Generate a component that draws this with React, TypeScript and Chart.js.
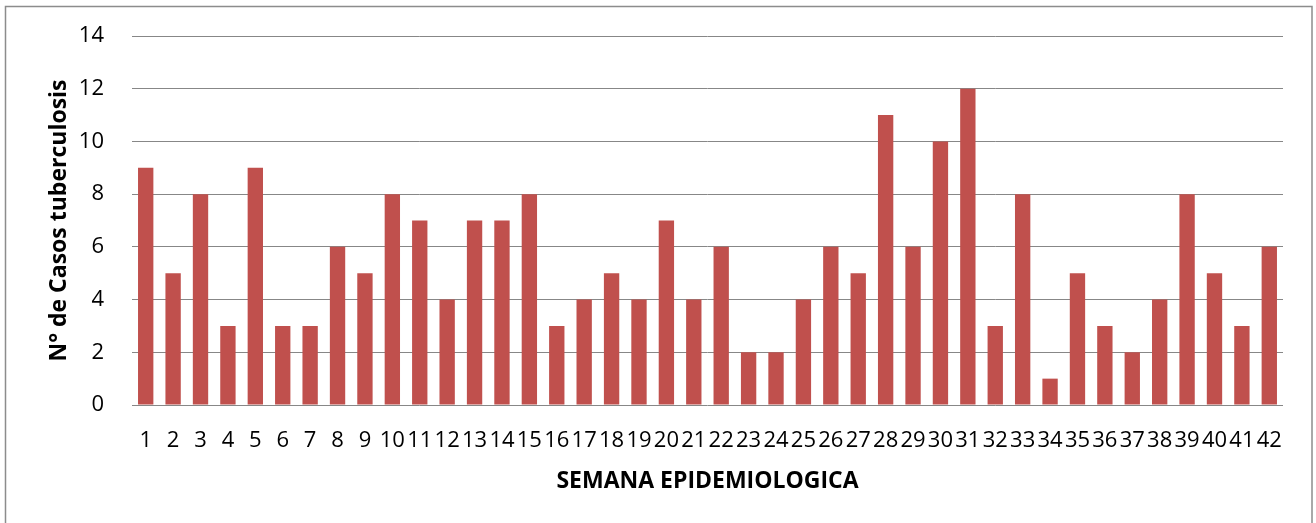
import React, { useEffect, useRef } from "react";
import { Chart, registerables } from "chart.js";

Chart.register(...registerables);

const weeks: string[] = [
  "1","2","3","4","5","6","7","8","9","10","11","12","13","14","15","16","17","18","19","20","21",
  "22","23","24","25","26","27","28","29","30","31","32","33","34","35","36","37","38","39","40","41","42",
];
const cases: number[] = [
  9, 5, 8, 3, 9, 3, 3, 6, 5, 8, 7, 4, 7, 7, 8, 3, 4, 5, 4, 7, 4,
  6, 2, 2, 4, 6, 5, 11, 6, 10, 12, 3, 8, 1, 5, 3, 2, 4, 8, 5, 3, 6,
];
const yTitle = "N° de Casos tuberculosis";
const xTitle = "SEMANA EPIDEMIOLOGICA";

const W = 1316;
const H = 523;

const borderPlugin = {
  id: "outerBorder",
  afterDraw(chart: any) {
    const ctx = chart.ctx;
    ctx.save();
    ctx.strokeStyle = "#8c8c8c";
    ctx.lineWidth = 1.5;
    ctx.strokeRect(5.5, 6.5, 1306.5, 530);
    ctx.restore();
  },
};

export default function App() {
  const ref = useRef<HTMLCanvasElement | null>(null);
  useEffect(() => {
    if (!ref.current) return;
    const font = "'Open Sans', 'DejaVu Sans', sans-serif";
    const chart = new Chart(ref.current, {
      type: "bar",
      data: {
        labels: weeks,
        datasets: [
          {
            data: cases,
            backgroundColor: "#C0504D",
            borderWidth: 0,
            barPercentage: 0.56,
            categoryPercentage: 1,
          },
        ],
      },
      options: {
        responsive: false,
        animation: false,
        devicePixelRatio: 1,
        layout: { padding: { left: 0, top: 36, right: 33, bottom: 0 } },
        plugins: {
          legend: { display: false },
          tooltip: { enabled: false },
        },
        scales: {
          x: {
            afterFit(scale: any) {
              scale.height = H - 405;
              scale.paddingLeft = 0;
              scale.paddingRight = 0;
            },
            grid: { display: false, drawTicks: false },
            border: { display: false },
            ticks: {
              autoSkip: false,
              maxRotation: 0,
              minRotation: 0,
              padding: 23,
              color: "#000",
              font: { family: font, size: 22 },
            },
            title: {
              display: true,
              text: xTitle,
              color: "#000",
              font: { family: font, size: 23, weight: "bold" },
              padding: { top: 0, bottom: 28 },
            },
          },
          y: {
            min: 0,
            max: 14,
            afterFit(scale: any) {
              scale.width = 132;
              scale.paddingTop = 0;
              scale.paddingBottom = 0;
            },
            ticks: {
              stepSize: 2,
              padding: 28,
              color: "#000",
              font: { family: font, size: 22 },
            },
            grid: { color: "#878787", lineWidth: 1, drawTicks: false },
            border: { display: false },
            title: {
              display: true,
              text: yTitle,
              color: "#000",
              font: { family: font, size: 23, weight: "bold" },
              padding: { top: 46, bottom: 0 },
            },
          },
        },
      },
      plugins: [borderPlugin],
    });
    return () => chart.destroy();
  }, []);
  return (
    <div style={{ position: "fixed", left: 0, top: 0, width: W, height: H, background: "#fff" }}>
      <canvas ref={ref} width={W} height={H} style={{ display: "block", width: W, height: H }} />
    </div>
  );
}
